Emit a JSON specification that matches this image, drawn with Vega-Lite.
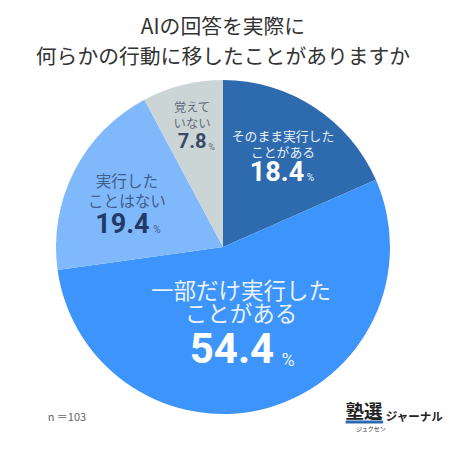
{
  "$schema": "https://vega.github.io/schema/vega-lite/v6.json",
  "width": 446,
  "height": 406,
  "padding": { "left": 0, "right": 4, "top": 44, "bottom": 0 },
  "autosize": { "type": "none" },
  "background": "white",
  "config": { "view": { "stroke": null }, "text": { "font": "Noto Sans CJK JP" } },
  "title": {
    "text": ["AIの回答を実際に", "何らかの行動に移したことがありますか"],
    "font": "Noto Sans CJK JP",
    "fontSize": 20.8,
    "fontWeight": 400,
    "color": "#333333",
    "lineHeight": 30,
    "anchor": "middle",
    "baseline": "bottom",
    "offset": -45
  },
  "datasets": {
    "answers": [
      { "order": 1, "answer": "そのまま実行した\nことがある", "share": 18.4 },
      { "order": 2, "answer": "一部だけ実行した\nことがある", "share": 54.4 },
      { "order": 3, "answer": "実行した\nことはない", "share": 19.4 },
      { "order": 4, "answer": "覚えて\nいない", "share": 7.8 }
    ],
    "notes": [{ "n": "n ＝103", "logo": "塾選", "kana": "ジュクセン", "name": "ジャーナル" }]
  },
  "layer": [
    {
      "layer": [
        {
          "mark": { "type": "arc", "radius": 167 },
          "encoding": {
            "color": {
              "field": "order",
              "type": "nominal",
              "legend": null,
              "scale": {
                "domain": [1, 2, 3, 4],
                "range": ["#2E6AAE", "#3D94FB", "#7FB8FB", "#CCD5D6"]
              }
            }
          }
        },
        {
          "transform": [{ "filter": "datum.order == 1" }],
          "layer": [
            {
              "mark": { "type": "text", "radius": 90, "dx": 60, "dy": -20, "fontSize": 12.8, "lineHeight": 16, "lineBreak": "\n", "color": "#E8F0FA" },
              "encoding": { "text": { "field": "answer" } }
            },
            {
              "mark": { "type": "text", "radius": 90, "dx": 54, "dy": 16, "fontSize": 27, "font": "Roboto", "fontWeight": "bold", "color": "white" },
              "encoding": { "text": { "field": "share", "type": "quantitative", "format": ".1f" } }
            },
            {
              "mark": { "type": "text", "radius": 90, "dx": 87.5, "dy": 21, "fontSize": 10, "font": "Roboto", "color": "#E8F0FA", "text": "%" }
            }
          ]
        },
        {
          "transform": [{ "filter": "datum.order == 2" }],
          "layer": [
            {
              "mark": { "type": "text", "radius": 90, "dx": -64.4, "dy": 81.3, "fontSize": 22.5, "lineHeight": 23, "lineBreak": "\n", "color": "#E8F2FE" },
              "encoding": { "text": { "field": "answer" } }
            },
            {
              "mark": { "type": "text", "radius": 90, "dx": -73.4, "dy": 139.3, "fontSize": 42, "font": "Roboto", "fontWeight": "bold", "color": "white" },
              "encoding": { "text": { "field": "share", "type": "quantitative", "format": ".1f" } }
            },
            {
              "mark": { "type": "text", "radius": 90, "dx": -17.4, "dy": 150.3, "fontSize": 18, "font": "Roboto", "color": "#E8F2FE", "text": "%" }
            }
          ]
        },
        {
          "transform": [{ "filter": "datum.order == 3" }],
          "layer": [
            {
              "mark": { "type": "text", "radius": 90, "dx": -6.9, "dy": -77.4, "fontSize": 15.6, "lineHeight": 20, "lineBreak": "\n", "color": "#3F5F8C" },
              "encoding": { "text": { "field": "answer" } }
            },
            {
              "mark": { "type": "text", "radius": 90, "dx": -11.4, "dy": -34.4, "fontSize": 27, "font": "Roboto", "fontWeight": "bold", "color": "#223A66" },
              "encoding": { "text": { "field": "share", "type": "quantitative", "format": ".1f" } }
            },
            {
              "mark": { "type": "text", "radius": 90, "dx": 23.1, "dy": -29.4, "fontSize": 10, "font": "Roboto", "color": "#3F5F8C", "text": "%" }
            }
          ]
        },
        {
          "transform": [{ "filter": "datum.order == 4" }],
          "layer": [
            {
              "mark": { "type": "text", "radius": 90, "dx": 11.4, "dy": -59.6, "fontSize": 12.3, "lineHeight": 16, "lineBreak": "\n", "color": "#5C6B7A" },
              "encoding": { "text": { "field": "answer" } }
            },
            {
              "mark": { "type": "text", "radius": 90, "dx": 11.4, "dy": -25.6, "fontSize": 20, "font": "Roboto", "fontWeight": "bold", "color": "#3A4A66" },
              "encoding": { "text": { "field": "share", "type": "quantitative", "format": ".1f" } }
            },
            {
              "mark": { "type": "text", "radius": 90, "dx": 30.9, "dy": -20.6, "fontSize": 9, "font": "Roboto", "color": "#5C6B7A", "text": "%" }
            }
          ]
        }
      ],
      "data": { "name": "answers" },
      "transform": [
        { "stack": "share", "sort": [{ "field": "order" }], "as": ["start", "end"] }
      ],
      "encoding": {
        "theta": { "field": "start", "type": "quantitative", "scale": { "domain": [0, 100] } },
        "theta2": { "field": "end" }
      }
    },
    {
      "data": { "name": "notes" },
      "encoding": {
        "x": { "type": "quantitative", "scale": { "domain": [0, 1] }, "axis": null },
        "y": { "type": "quantitative", "scale": { "domain": [1, 0] }, "axis": null }
      },
      "layer": [
        {
          "mark": { "type": "text", "fontSize": 11, "color": "#666666" },
          "encoding": {
            "x": { "datum": 0.15, "type": "quantitative", "axis": null },
            "y": { "datum": 0.921, "type": "quantitative", "axis": null },
            "text": { "field": "n" }
          }
        },
        {
          "mark": { "type": "text", "fontSize": 18.5, "fontWeight": "bold", "color": "#222222" },
          "encoding": {
            "x": { "datum": 0.816, "type": "quantitative", "axis": null },
            "y": { "datum": 0.906, "type": "quantitative", "axis": null },
            "text": { "field": "logo" }
          }
        },
        {
          "mark": { "type": "rule", "strokeWidth": 3, "color": "#2E6AAE" },
          "encoding": {
            "x": { "datum": 0.775, "type": "quantitative", "axis": null },
            "x2": { "datum": 0.859 },
            "y": { "datum": 0.931, "type": "quantitative", "axis": null }
          }
        },
        {
          "mark": { "type": "text", "fontSize": 6, "color": "#333333" },
          "encoding": {
            "x": { "datum": 0.832, "type": "quantitative", "axis": null },
            "y": { "datum": 0.948, "type": "quantitative", "axis": null },
            "text": { "field": "kana" }
          }
        },
        {
          "mark": { "type": "text", "fontSize": 11.5, "fontWeight": "bold", "color": "#222222" },
          "encoding": {
            "x": { "datum": 0.929, "type": "quantitative", "axis": null },
            "y": { "datum": 0.921, "type": "quantitative", "axis": null },
            "text": { "field": "name" }
          }
        }
      ]
    }
  ]
}
